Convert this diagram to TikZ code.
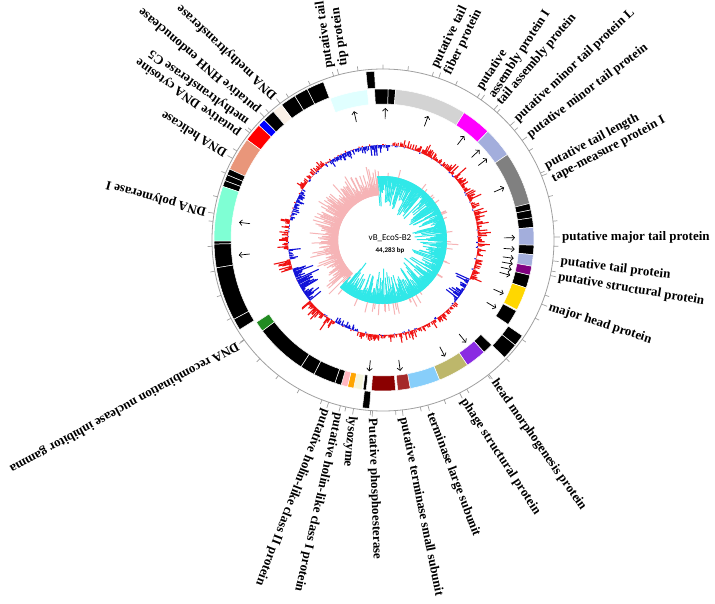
\documentclass[tikz,border=0pt]{standalone}
\usepackage{fontspec}
\setmainfont{Liberation Serif}
\newfontfamily\calib{Carlito}
\usetikzlibrary{arrows.meta}
\definecolor{gcpos}{HTML}{F01010}
\definecolor{gcneg}{HTML}{1010D8}
\definecolor{skpos}{HTML}{F6B4B6}
\definecolor{skneg}{HTML}{30E8E8}
\definecolor{ltcyan}{HTML}{E0FFFF}
\definecolor{ltgray}{HTML}{D3D3D3}
\definecolor{mgnt}{HTML}{FF00FF}
\definecolor{lav}{HTML}{A3AEDC}
\definecolor{dkgray}{HTML}{808080}
\definecolor{prp}{HTML}{800080}
\definecolor{gld}{HTML}{FFD700}
\definecolor{bviolet}{HTML}{8A2BE2}
\definecolor{dkkhaki}{HTML}{BDB76B}
\definecolor{lskyblue}{HTML}{87CEFA}
\definecolor{brwn}{HTML}{A52A2A}
\definecolor{dkred}{HTML}{8B0000}
\definecolor{bge}{HTML}{F5F5DC}
\definecolor{orng}{HTML}{FFA500}
\definecolor{pnk}{HTML}{FFB6C1}
\definecolor{grn}{HTML}{228B22}
\definecolor{aqua}{HTML}{7FFFD4}
\definecolor{dksalmon}{HTML}{E9967A}
\definecolor{lnen}{HTML}{FAF0E6}
\definecolor{rd}{HTML}{FF0000}
\definecolor{bl}{HTML}{0000FF}
\definecolor{circ}{HTML}{A0A0A0}
\newcommand{\genebox}[5]{%
  \filldraw[fill=#5, draw=white, line width=0.5pt]
    (#1:#3pt) arc[start angle=#1, end angle=#2, radius=#3pt]
    -- (#2:#4pt) arc[start angle=#2, end angle=#1, radius=#4pt] -- cycle;}
\tikzset{
  lbl/.style={font=\bfseries\fontsize{13}{14.5}\selectfont, anchor=west, inner sep=0pt, align=left},
  leader/.style={draw=circ, line width=0.7pt},
  tickln/.style={draw=circ, line width=0.7pt},
  arr/.style={draw=black, line width=0.7pt, -{Straight Barb[length=2.6pt,width=5.5pt]}},
}
\begin{document}
\begin{tikzpicture}[x=1pt,y=1pt]
\useasboundingbox (-383pt,-363pt) rectangle (332pt,240pt);
\fill[white] (-383pt,-363pt) rectangle (332pt,240pt);

% ---------- GC skew ring ----------
\pgfmathsetseed{4711}
\foreach \i in {0,...,719}{
  \pgfmathsetmacro\a{\i*0.5}
  \pgfmathsetmacro\u{rnd}
  \pgfmathsetmacro\w{rnd}
  \ifdim\a pt>95pt
    \ifdim\a pt<228pt
      \pgfmathsetmacro\rr{45+4+22*\u*\u*\u+6*\w}
      \draw[skpos, line width=1pt] (\a:45pt) -- (\a:\rr pt);
    \else
      \pgfmathsetmacro\rr{64-4-27*\u*\u*\u-7*\w}
      \draw[skneg, line width=1pt] (\a:64pt) -- (\a:\rr pt);
      \ifdim\w pt<0.08pt
        \pgfmathsetmacro\rs{64+3+9*\u}
        \draw[skpos, line width=1pt] (\a:64pt) -- (\a:\rs pt);
      \fi
    \fi
  \else
    \pgfmathsetmacro\rr{64-4-27*\u*\u*\u-7*\w}
    \draw[skneg, line width=1pt] (\a:64pt) -- (\a:\rr pt);
    \ifdim\w pt<0.08pt
      \pgfmathsetmacro\rs{64+3+9*\u}
      \draw[skpos, line width=1pt] (\a:64pt) -- (\a:\rs pt);
    \fi
  \fi
}

% ---------- GC content ring ----------
\pgfmathsetseed{2024}
\foreach \s/\e/\b in {0/25/6, 25/50/7, 50/70/5, 70/85/3, 85/100/-6, 100/115/-5,
  115/128/-3, 128/148/4, 148/168/-4, 168/186/5, 186/192/-7, 192/198/9,
  198/220/-12, 220/240/7, 240/255/-3, 255/300/4, 300/320/4, 320/336/-8, 336/360/5}{
  \pgfmathtruncatemacro\nn{(\e-\s)*2-1}
  \foreach \j in {0,...,\nn}{
    \pgfmathsetmacro\a{\s+\j*0.5}
    \pgfmathsetmacro\u{rnd}
    \pgfmathsetmacro\v{\b*(0.2+1.8*\u*\u*\u)+3*rand}
    \pgfmathsetmacro\rr{95+\v}
    \ifdim\v pt>0pt
      \draw[gcpos, line width=1.1pt] (\a:95pt) -- (\a:\rr pt);
    \else
      \draw[gcneg, line width=1.1pt] (\a:95pt) -- (\a:\rr pt);
    \fi
  }
}

% ---------- inner gene ring ----------
\foreach \s/\e/\c in {110.5/96/ltcyan, 93.2/88/black, 88/85.2/black,
  85.2/57.5/ltgray, 57.5/46/mgnt, 46/34.5/lav, 34.5/14/dkgray,
  14/11.5/black, 11.5/8.5/black, 8.5/4.8/black, 4.8/-2/lav, -2/-5.6/black,
  -5.6/-10/lav, -10/-13.5/prp, -13.5/-18.5/black, -18.5/-27.5/gld,
  -28/-34/black, -44/-48/black, -48/-56/bviolet, -56/-68/dkkhaki,
  -68/-79.6/lskyblue, -79.6/-84.4/brwn, -85.2/-94.4/dkred,
  -96.4/-97.6/black, -98/-101.2/bge, -101.2/-103.6/orng, -103.6/-106.1/pnk,
  -106.1/-108.6/black, -108.6/-117.2/black, -117.2/-122.9/black,
  -122.9/-143/black, -143/-147/grn}{
  \genebox{\s}{\e}{136}{151}{\c}
}

% ---------- outer gene ring ----------
\foreach \s/\e/\c in {110.7/116.7/black, 116.7/121.5/black, 121.5/126.9/black,
  126.9/130.5/lnen, 130.5/134.7/black, 134.7/137.3/bl, 137.3/143.6/rd,
  143.6/155.2/dksalmon, 155.2/157.3/black, 157.3/159.4/black, 159.4/161.5/black,
  161.5/180.4/aqua, 180.4/181.4/black, 181.4/189.5/black, 189.5/208/black,
  208/212/black, 92.9/95.8/black, -34.5/-38.5/black, -38.5/-44/black,
  -94.6/-97/black}{
  \genebox{\s}{\e}{152}{169}{\c}
}

% ---------- direction arrows ----------
\foreach \a in {102.7, 89, 70, 52, 43, 38, 23.4, 1, -4, -8, -10.5, -13, -15.5,
  -24, -31, -51, -62, -82.5, -96}{
  \draw[arr] (\a:121pt) -- (\a:132pt);
}
\foreach \a in {173, 186}{
  \draw[arr] (\a:134pt) -- (\a:145pt);
}

% ---------- outer circle and ticks ----------
\draw[circ, line width=0.8pt] (0,0) circle[radius=171pt];
\foreach \k in {0,...,42}{
  \pgfmathsetmacro\a{98.4-\k*360/43}
  \draw[tickln] (\a:171pt) -- (\a:175.5pt);
}

% ---------- labels ----------
\foreach \pa/\ro/\txt [count=\i] in {
 1/0/{putative major tail protein},
 -7/-7/{putative tail protein},
 -12/-9.5/{putative structural protein},
 -22/-18/{major head protein},
 22/28/{putative tail length\\tape-measure protein I},
 35.6/37/{putative minor tail protein},
 42/43/{putative minor tail protein L},
 49.6/49.5/{tail assembly protein},
 55/57/{putative\\assembly protein I},
 71/64/{putative tail\\fiber protein},
 105/98/{putative tail\\tip protein},
 127/137/{DNA methyltransferase},
 134/139.5/{putative HNH endonuclease},
 141.2/144.5/{putative DNA cytosine\\methyltransferase C5},
 151.5/148/{DNA helicase},
 171/164.6/{DNA polymerase I},
 215.8/208.8/{DNA recombination nuclease inhibitor gamma},
 -108.5/-111/{putative holin-like class II protein},
 -104.4/-102.7/{putative holin-like class I protein},
 -99.9/-95.5/{lysozyme},
 -93.5/-88/{Putative phosphoesterase},
 -83.5/-78.7/{putative terminase small subunit},
 -74.8/-69.3/{terminase large subunit},
 -63.4/-56.7/{phage structural protein},
 -51.8/-55/{head morphogenesis protein}}{
  \coordinate (ls\i) at (\pa:171pt);
  \coordinate (le\i) at (\pa:177pt);
  \node[lbl, rotate=\ro] (lab\i) at (\pa:179pt) {\txt};
  \draw[leader] (ls\i) -- (le\i);
}

% ---------- centre title ----------
\node[font=\calib\fontsize{9}{10}\selectfont, inner sep=0pt] (title) at (7pt,2pt) {vB\_EcoS-B2};
\node[font=\calib\bfseries\fontsize{7}{8}\selectfont, inner sep=0pt] (len) at (7pt,-11pt) {44,283 bp};
\end{tikzpicture}
\end{document}
